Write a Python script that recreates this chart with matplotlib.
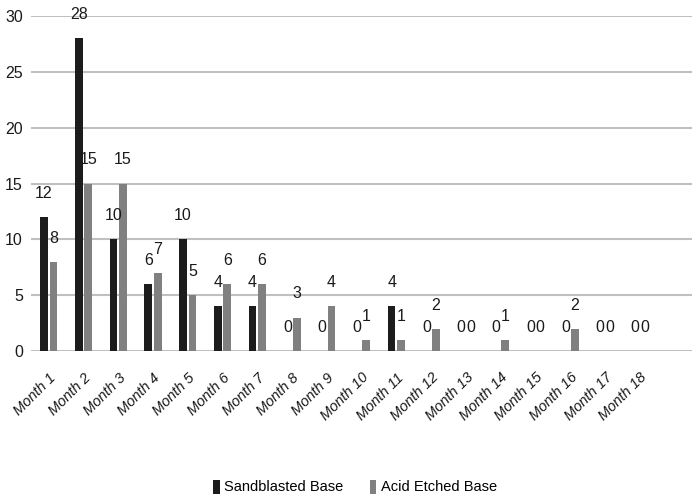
import matplotlib.pyplot as plt
import numpy as np

plt.rcParams['font.family'] = ['Liberation Sans', 'DejaVu Sans']

months = [f'Month {i}' for i in range(1, 19)]
sandblasted = [12, 28, 10, 6, 10, 4, 4, 0, 0, 0, 4, 0, 0, 0, 0, 0, 0, 0]
acid_etched = [8, 15, 15, 7, 5, 6, 6, 3, 4, 1, 1, 2, 0, 1, 0, 2, 0, 0]

fig = plt.figure(figsize=(6.96, 5.0), dpi=100)
ax = fig.add_axes([0.045, 0.298, 0.949, 0.670])

x = np.arange(len(months))
w = 0.22
off = 0.135
b1 = ax.bar(x - off, sandblasted, w, color='#1c1c1c', label='Sandblasted Base', zorder=3)
b2 = ax.bar(x + off, acid_etched, w, color='#808080', label='Acid Etched Base', zorder=3)

# data labels above each bar
for bars in (b1, b2):
    for r in bars:
        ax.annotate(f'{int(r.get_height())}', (r.get_x() + r.get_width() / 2, r.get_height()),
                    xytext=(0, 17), textcoords='offset points', ha='center', va='center',
                    fontsize=11.5, color='#1a1a1a', annotation_clip=False)

ax.set_xlim(-0.5, 18.5)
ax.set_ylim(0, 30)
ax.set_yticks(range(0, 31, 5))
ax.yaxis.grid(True, color='#c0c0c0', linewidth=1.5, zorder=0)
ax.set_axisbelow(True)
for s in ax.spines.values():
    s.set_visible(False)
ax.tick_params(length=0, labelsize=11.5, colors='#1a1a1a')
ax.tick_params(axis='y', pad=6)
ax.set_xticks(x)
ax.set_xticklabels(months, rotation=45, ha='right', rotation_mode='anchor',
                   fontstyle='italic', fontsize=10.5)
ax.tick_params(axis='x', pad=14)

fig.legend(loc='center', bbox_to_anchor=(0.51, 0.026), ncol=2, frameon=False,
           fontsize=10.5, handlelength=0.45, handleheight=1.1, handletextpad=0.3,
           columnspacing=1.8)

fig.savefig('out.png', dpi=100)
